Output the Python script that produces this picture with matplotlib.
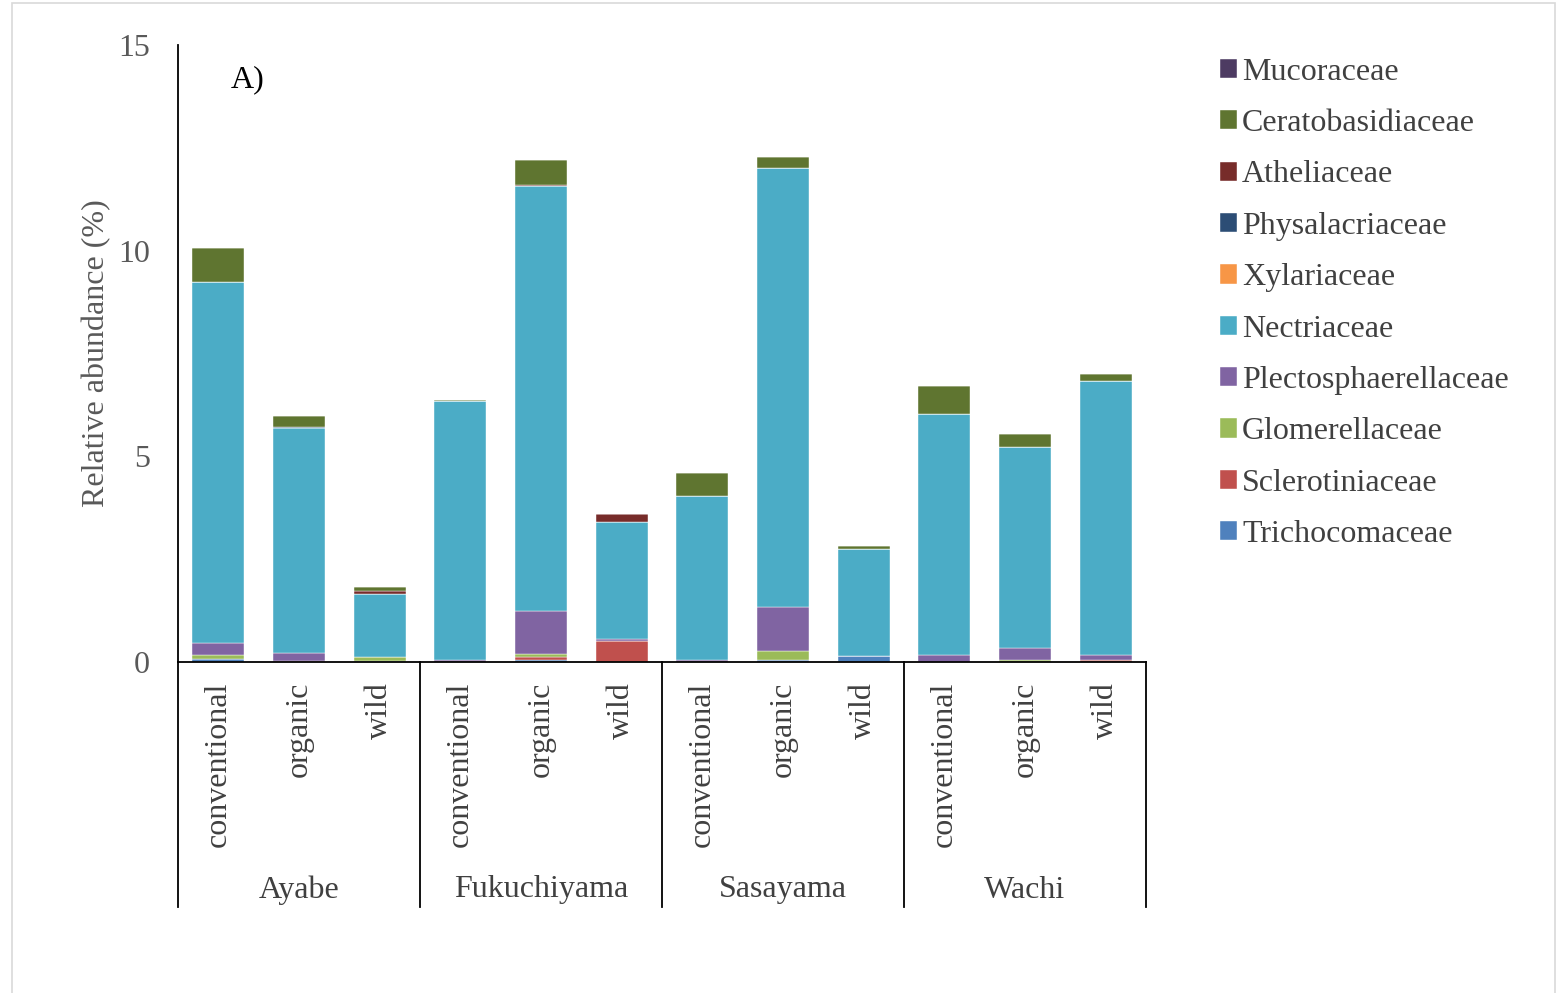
import matplotlib
matplotlib.use("Agg")
import matplotlib.pyplot as plt
from matplotlib.lines import Line2D
from matplotlib.patches import Rectangle
import numpy as np

plt.rcParams['font.family'] = ['Liberation Serif', 'DejaVu Serif']

sites = ["Ayabe", "Fukuchiyama", "Sasayama", "Wachi"]
treatments = ["conventional", "organic", "wild"]

# stacked from bottom to top (Ayabe conv, org, wild, Fukuchiyama ..., Sasayama ..., Wachi ...)
families = ["Trichocomaceae", "Sclerotiniaceae", "Glomerellaceae", "Plectosphaerellaceae",
            "Nectriaceae", "Xylariaceae", "Physalacriaceae", "Atheliaceae",
            "Ceratobasidiaceae", "Mucoraceae"]
trichocomaceae = [0.08, 0.00, 0.03, 0.01, 0.06, 0.00, 0.01, 0.06, 0.14, 0.01, 0.00, 0.00]
sclerotiniaceae = [0.00, 0.02, 0.00, 0.00, 0.07, 0.51, 0.00, 0.00, 0.00, 0.00, 0.00, 0.05]
glomerellaceae = [0.09, 0.00, 0.09, 0.00, 0.06, 0.00, 0.00, 0.21, 0.00, 0.00, 0.05, 0.00]
plectosphaerellaceae = [0.29, 0.20, 0.00, 0.03, 1.06, 0.04, 0.05, 1.07, 0.00, 0.17, 0.30, 0.13]
nectriaceae = [8.78, 5.47, 1.53, 6.31, 10.31, 2.85, 3.98, 10.66, 2.61, 5.85, 4.88, 6.65]
xylariaceae = [0.00, 0.00, 0.00, 0.00, 0.00, 0.00, 0.00, 0.00, 0.00, 0.00, 0.00, 0.00]
physalacriaceae = [0.00, 0.03, 0.00, 0.00, 0.00, 0.00, 0.00, 0.00, 0.00, 0.00, 0.00, 0.00]
atheliaceae = [0.00, 0.00, 0.07, 0.00, 0.03, 0.20, 0.00, 0.00, 0.00, 0.00, 0.00, 0.00]
ceratobasidiaceae = [0.83, 0.26, 0.10, 0.03, 0.62, 0.00, 0.56, 0.28, 0.07, 0.68, 0.31, 0.17]
mucoraceae = [0.00, 0.00, 0.00, 0.00, 0.00, 0.00, 0.00, 0.00, 0.00, 0.00, 0.00, 0.00]

values = [trichocomaceae, sclerotiniaceae, glomerellaceae, plectosphaerellaceae, nectriaceae,
          xylariaceae, physalacriaceae, atheliaceae, ceratobasidiaceae, mucoraceae]
colors = ["#4F81BD", "#C0504D", "#9BBB59", "#8064A2", "#4BACC6",
          "#F79646", "#2C4D75", "#772C2A", "#5F7530", "#4D3B62"]

W, H = 1562, 993
FS = 23
fig = plt.figure(figsize=(W / 100, H / 100), dpi=100)
ax = fig.add_axes([178 / W, (H - 662) / H, 968 / W, 617 / H])

x = np.arange(12)
bottom = np.zeros(12)
handles = []
for name, vals, c in zip(families, values, colors):
    bars = ax.bar(x, vals, 0.645, bottom=bottom, color=c, label=name,
                  edgecolor="white", linewidth=0.3)
    bottom += np.array(vals)
    handles.append(bars)

ax.set_xlim(-0.5, 11.5)
ax.set_ylim(0, 15)
ax.set_yticks([0, 5, 10, 15])
ax.tick_params(axis="y", length=0, pad=20, labelsize=FS, labelcolor="#595959")
ax.set_xticks([])
for s in ["top", "right"]:
    ax.spines[s].set_visible(False)
ax.spines["left"].set_linewidth(1.3)
ax.spines["bottom"].set_linewidth(1.3)
ax.set_ylabel("Relative abundance (%)", fontsize=FS, color="#595959", labelpad=5)

ax.text((248 - 178) / 968, 1 - (80 - 45) / 617, "A)", transform=ax.transAxes,
        fontsize=FS, ha="center", va="center", color="black")

# category labels
for i, t in enumerate(treatments * 4):
    ax.annotate(t, xy=(i, 0), xycoords="data", xytext=(0, -20), textcoords="offset pixels",
                rotation=90, ha="center", va="top", fontsize=FS, color="#404040")
for k, s in enumerate(sites):
    ax.annotate(s, xy=(k * 3 + 1, 0), xycoords="data", xytext=(0, -228),
                textcoords="offset pixels", ha="center", va="center",
                fontsize=FS, color="#404040")
for xp in [178, 420, 662, 904, 1146]:
    fig.add_artist(Line2D([xp / W, xp / W], [(H - 662) / H, (H - 907) / H],
                          color="black", linewidth=1.3))

# legend
leg = fig.legend(handles[::-1], families[::-1], loc="upper left",
                 bbox_to_anchor=(1207 / W, 1 - 45 / H), frameon=False,
                 fontsize=FS, handlelength=0.55, handleheight=0.55,
                 handletextpad=0.15, labelspacing=0.7, borderaxespad=0)
for t in leg.get_texts():
    t.set_color("#404040")

fig.add_artist(Rectangle((12 / W, -0.01), (1555 - 12) / W, (H - 3) / H + 0.01,
                         fill=False, edgecolor="#d9d9d9", linewidth=1.2,
                         transform=fig.transFigure))

fig.savefig("out.png", dpi=100)
